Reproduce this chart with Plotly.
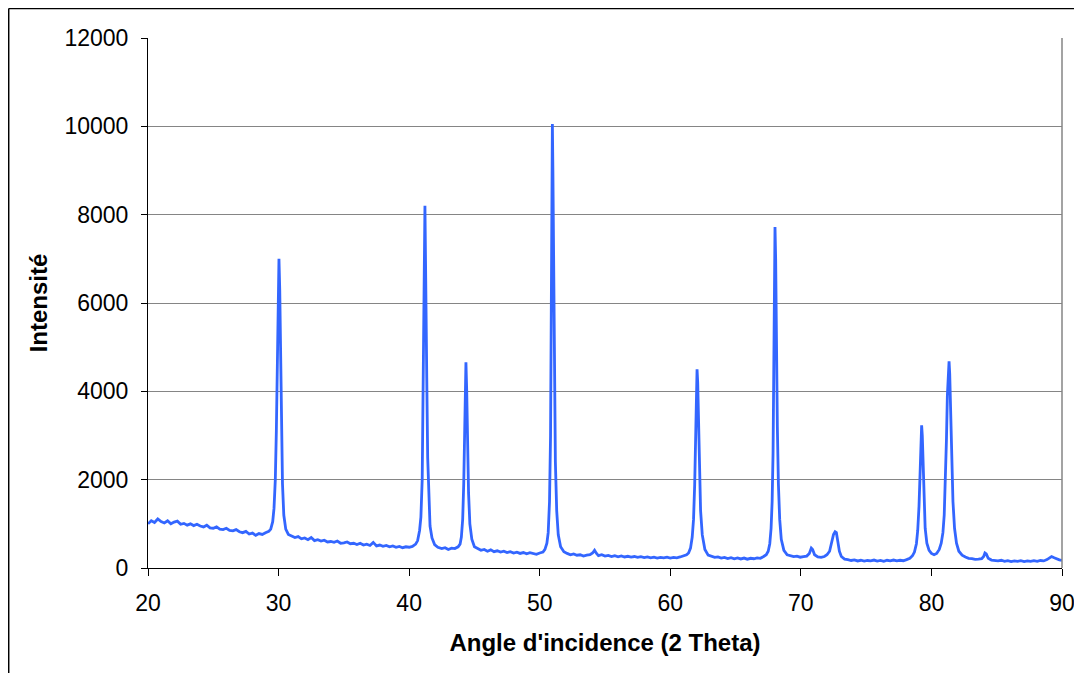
"""XRD pattern: intensity vs 2 theta."""

import plotly.graph_objects as go

# 2 theta (degrees) and intensity
two_theta = [
    # background 20-29
    20.0, 20.25, 20.5, 20.75, 21.0, 21.25, 21.5, 21.75, 22.0, 22.25, 22.5, 22.75,
    23.0, 23.25, 23.5, 23.75, 24.0, 24.25, 24.5, 24.75, 25.0, 25.25, 25.5, 25.75,
    26.0, 26.25, 26.5, 26.75, 27.0, 27.25, 27.5, 27.75, 28.0, 28.25, 28.5, 28.75,
    29.0, 29.25,
    # peak ~30
    29.4, 29.55, 29.65, 29.75, 29.83, 29.9, 29.96, 30.03, 30.09, 30.15, 30.22, 30.3,
    30.4, 30.55, 30.75,
    # background 31-40.5
    31.0, 31.25, 31.5, 31.75, 32.0, 32.25, 32.5, 32.75, 33.0, 33.25, 33.5, 33.75,
    34.0, 34.25, 34.5, 34.75, 35.0, 35.25, 35.5, 35.75, 36.0, 36.25, 36.5, 36.75,
    37.0, 37.25, 37.5, 37.75, 38.0, 38.25, 38.5, 38.75, 39.0, 39.25, 39.5, 39.75,
    40.0, 40.25, 40.5,
    # peak ~41.2
    40.65, 40.8, 40.9, 41.0, 41.07, 41.13, 41.21, 41.28, 41.35, 41.42, 41.5, 41.6,
    41.75, 41.95,
    42.2, 42.5, 42.75, 43.0, 43.25, 43.5, 43.75,
    # peak ~44.3
    43.9, 44.0, 44.1, 44.18, 44.25, 44.3, 44.35, 44.41, 44.47, 44.55, 44.65, 44.8,
    45.0,
    45.25, 45.5, 45.75, 46.0, 46.25, 46.5, 46.75, 47.0, 47.25, 47.5, 47.75, 48.0,
    48.25, 48.5, 48.75, 49.0, 49.25, 49.5, 49.75, 50.0, 50.25,
    # peak ~51
    50.4, 50.55, 50.65, 50.75, 50.83, 50.89, 50.94, 50.97, 51.01, 51.06, 51.12, 51.2,
    51.3, 51.42, 51.6, 51.85,
    52.1, 52.35, 52.6, 52.85, 53.1, 53.35, 53.6, 53.85, 54.05, 54.2, 54.35, 54.5,
    54.75, 55.0, 55.25, 55.5, 55.75, 56.0, 56.25, 56.5, 56.75, 57.0, 57.25, 57.5,
    57.75, 58.0, 58.25, 58.5, 58.75, 59.0, 59.25, 59.5, 59.75, 60.0, 60.25, 60.5,
    60.75, 61.0, 61.25,
    # peak ~62
    61.4, 61.55, 61.68, 61.78, 61.87, 61.94, 62.0, 62.05, 62.1, 62.16, 62.23, 62.32,
    62.45, 62.65, 62.9,
    63.15, 63.4, 63.65, 63.9, 64.15, 64.4, 64.65, 64.9, 65.15, 65.4, 65.65, 65.9,
    66.15, 66.4, 66.65, 66.9, 67.15, 67.35,
    # peak ~68
    67.5, 67.62, 67.72, 67.8, 67.87, 67.93, 67.98, 68.02, 68.07, 68.13, 68.2, 68.28,
    68.38, 68.5, 68.7, 68.95,
    69.2, 69.45, 69.7, 69.95, 70.2, 70.45, 70.65, 70.8, 70.9, 71.05, 71.3, 71.55,
    71.8, 72.0, 72.2, 72.35, 72.5, 72.62, 72.72, 72.82, 72.95, 73.1, 73.35,
    73.6, 73.85, 74.1, 74.35, 74.6, 74.85, 75.1, 75.35, 75.6, 75.85, 76.1, 76.35,
    76.6, 76.85, 77.1, 77.35, 77.6, 77.85, 78.1, 78.35, 78.55,
    # peak ~79.3
    78.7, 78.85, 78.95, 79.05, 79.12, 79.18, 79.25, 79.3, 79.36, 79.43, 79.52, 79.65,
    79.82, 80.0, 80.2, 80.4, 80.6,
    # peak ~81.4
    80.75, 80.88, 80.98, 81.07, 81.15, 81.22, 81.3, 81.35, 81.4, 81.47, 81.55, 81.65,
    81.77, 81.92, 82.1, 82.35, 82.6, 82.85, 83.1, 83.35, 83.6,
    83.85, 84.0, 84.1, 84.2, 84.35, 84.6, 84.85,
    85.1, 85.35, 85.6, 85.85, 86.1, 86.35, 86.6, 86.85, 87.1, 87.35, 87.6, 87.85,
    88.1, 88.35, 88.6, 88.85, 89.05, 89.2, 89.4, 89.6, 89.8, 90.0,
]

intensity = [
    1000, 1070, 1030, 1110, 1050, 1020, 1070, 1000, 1040, 1060, 990, 1010,
    970, 1000, 960, 990, 950, 930, 970, 910, 900, 930, 880, 870,
    900, 850, 840, 870, 820, 800, 830, 770, 790, 740, 780, 760,
    800, 830,
    880, 1050, 1350, 2000, 3100, 4600, 6200, 7000, 6300, 4800, 3100, 1900,
    1200, 880, 760,
    720, 690, 710, 660, 680, 640, 690, 620, 640, 610, 630, 590,
    600, 580, 610, 560, 570, 590, 550, 560, 530, 560, 520, 540,
    510, 580, 500, 520, 490, 510, 480, 500, 470, 490, 460, 480,
    470, 490, 540,
    620, 850, 1150, 2000, 3600, 5900, 8200, 6800, 4300, 2500, 1500, 950,
    680, 530,
    470, 440, 460, 420, 450, 440, 480,
    540, 700, 1100, 1900, 3200, 4200, 4660, 4000, 2900, 1700, 1000, 650,
    480,
    430, 400, 420, 380, 410, 370, 390, 360, 380, 350, 370, 340,
    360, 330, 350, 320, 345, 330, 310, 340, 360,
    420, 560, 800, 1500, 3000, 5600, 8400, 10050, 9000, 6700, 4300, 2400,
    1300, 750, 480, 370,
    330, 300, 320, 290, 300, 270, 290, 300, 340, 400, 330, 280,
    300, 270, 285, 260, 280, 255, 275, 250, 265, 245, 260, 240,
    255, 235, 250, 230, 245, 225, 240, 230, 245, 225, 240, 230,
    250, 270, 300,
    340, 450, 700, 1100, 1900, 3000, 4000, 4500, 4200, 3300, 2200, 1300,
    750, 420, 290,
    260, 240, 250, 225, 240, 215, 235, 210, 230, 205, 225, 200,
    220, 210, 230, 220, 260, 300,
    380, 550, 900, 1500, 2600, 4300, 6400, 7720, 7000, 5000, 3200, 1900,
    1100, 650, 400, 300,
    280, 260, 270, 245, 260, 270, 330, 450, 420, 300, 250, 240,
    260, 300, 380, 560, 760, 820, 800, 620, 380, 260, 200,
    190, 170, 185, 160, 175, 155, 170, 160, 180, 155, 170, 150,
    175, 160, 180, 160, 175, 165, 190, 220, 280,
    360, 550, 850, 1400, 2100, 2800, 3230, 3000, 2300, 1500, 900, 560,
    400, 330, 300, 330, 420,
    560, 800, 1200, 1900, 2900, 3900, 4600, 4680, 4400, 3500, 2400, 1500,
    900, 560, 380, 290, 250, 220, 210, 195, 200,
    210, 260, 340, 320, 220, 180, 170,
    160, 175, 150, 165, 145, 160, 150, 165, 145, 160, 150, 165,
    150, 170, 160, 190, 240, 260, 230, 200, 185, 170,
]

y_ticks = [0, 2000, 4000, 6000, 8000, 10000, 12000]
y_tick_labels = ["0", "2000", "4000", "6000", "8000", "10000", "12000"]
x_ticks = [20, 30, 40, 50, 60, 70, 80, 90]

FONT = "Liberation Sans, Arial, sans-serif"


def main():
    fig = go.Figure()
    fig.add_trace(go.Scatter(
        x=two_theta, y=intensity, mode="lines",
        line=dict(color="#3366ff", width=2.8),
        showlegend=False,
    ))

    # the page body adds an 8px offset, so margins are trimmed by that much
    fig.update_layout(
        width=1082, height=673,
        margin=dict(l=140, r=28, t=30, b=113),
        paper_bgcolor="white", plot_bgcolor="white",
        font=dict(family=FONT, size=23, color="black"),
        xaxis=dict(
            range=[20, 90], tickvals=x_ticks, showgrid=False, zeroline=False,
            showline=True, linecolor="black", linewidth=1,
            ticks="outside", ticklen=7, tickcolor="black",
            ticklabelstandoff=7,
            title=dict(text="<b>Angle d'incidence (2 Theta)</b>",
                       font=dict(family=FONT, size=24), standoff=19),
        ),
        yaxis=dict(
            range=[0, 12000], tickvals=y_ticks, ticktext=y_tick_labels,
            showgrid=True, gridcolor="#858585", gridwidth=1, zeroline=False,
            showline=True, linecolor="black", linewidth=1,
            ticks="outside", ticklen=6, tickcolor="black",
            ticklabelstandoff=8,
            title=dict(text="<b>Intensité</b>",
                       font=dict(family=FONT, size=24), standoff=10),
        ),
        shapes=[
            # right edge of plot area
            dict(type="line", xref="paper", yref="paper", x0=1, x1=1, y0=0, y1=1,
                 line=dict(color="#858585", width=1.5)),
            # chart outer border (cropped on right and bottom)
            dict(type="line", xref="paper", yref="paper", x0=-0.1524, x1=1.05,
                 y0=1.0556, y1=1.0556, line=dict(color="black", width=1.5)),
            dict(type="line", xref="paper", yref="paper", x0=-0.1524, x1=-0.1524,
                 y0=1.0556, y1=-0.25, line=dict(color="black", width=1.5)),
        ],
    )

    fig.write_html("out.html")


if __name__ == "__main__":
    main()
